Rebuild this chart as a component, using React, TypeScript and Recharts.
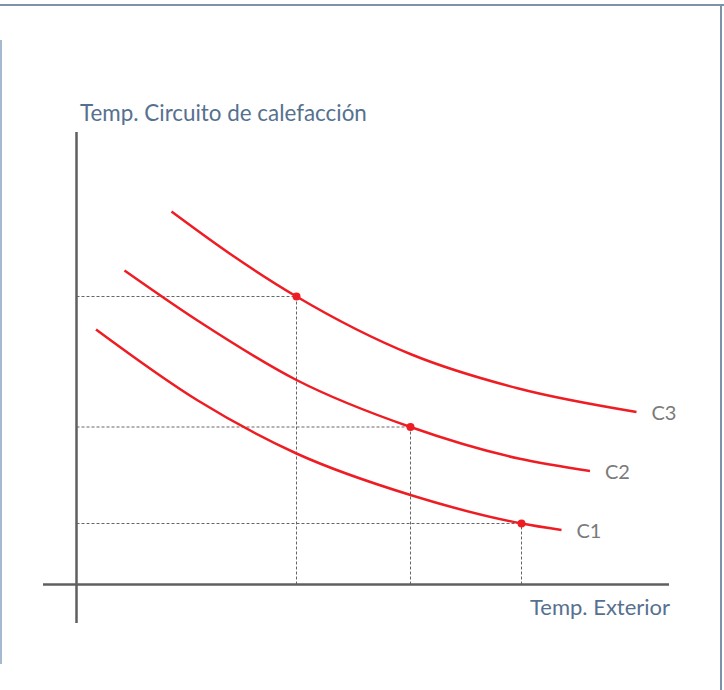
import React from 'react'
import {
  ComposedChart, Line, XAxis, YAxis, ReferenceLine, ReferenceDot,
} from 'recharts'

// unidades arbitrarias (sin escala en el original): x = temp. exterior, y = temp. impulsión
const c1 = [
  { x: 1.95, y: 25.5 },
  { x: 12.05, y: 18.45 },
  { x: 22.0, y: 13.1 },
  { x: 33.4, y: 8.95 },
  { x: 44.5, y: 6.1 },
  { x: 48.5, y: 5.45 },
]
const c2 = [
  { x: 4.8, y: 31.4 },
  { x: 12.1, y: 26.4 },
  { x: 22.0, y: 20.45 },
  { x: 33.4, y: 15.75 },
  { x: 44.2, y: 12.6 },
  { x: 51.35, y: 11.35 },
]
const c3 = [
  { x: 9.5, y: 37.3 },
  { x: 15.6, y: 32.9 },
  { x: 22.0, y: 28.8 },
  { x: 33.5, y: 23.0 },
  { x: 44.2, y: 19.6 },
  { x: 56.0, y: 17.25 },
]
const curveNames = ['C1', 'C2', 'C3']

// puntos de trabajo marcados en cada curva
const workPoints = [
  { x: 22.0, y: 28.8 },
  { x: 33.4, y: 15.75 },
  { x: 44.5, y: 6.1 },
]

const xDomain: [number, number] = [-7.65, 64.75]
const yDomain: [number, number] = [-10.55, 58.45]
const xAxisRange = [-3.35, 59.25]
const yAxisRange = [-3.85, 45.25]

const RED = '#ee1d23'
const AXIS = '#5f5f5f'
const TITLE = '#56718f'

function endLabel(name: string, count: number) {
  return (props: any) => {
    if (props.index !== count - 1) return <g />
    return (
      <text
        x={props.x + 15}
        y={props.y}
        dy={8}
        fill="#7a7a7a"
        fontSize={20}
        fontFamily="Lato, sans-serif"
      >
        {name}
      </text>
    )
  }
}

export default function App() {
  const curves = [c1, c2, c3]
  return (
    <div style={{ position: 'absolute', left: 0, top: 0, width: 724, height: 690, background: '#fff' }}>
      {/* marco */}
      <div style={{ position: 'absolute', left: 0, top: 4, width: 724, height: 2, background: '#7f93a8' }} />
      <div style={{ position: 'absolute', left: 720, top: 5, width: 2, height: 685, background: '#7f93a8' }} />
      <div style={{ position: 'absolute', left: 0, top: 40, width: 2, height: 624, background: '#a5bace' }} />

      <div
        style={{
          position: 'absolute', left: 80, top: 99, color: TITLE,
          fontFamily: 'Lato, sans-serif', fontSize: 22.4, whiteSpace: 'nowrap',
        }}
      >
        Temp. Circuito de calefacción
      </div>
      <div
        style={{
          position: 'absolute', left: 530, top: 593, color: TITLE,
          fontFamily: 'Lato, sans-serif', fontSize: 22, whiteSpace: 'nowrap',
        }}
      >
        Temp. Exterior
      </div>

      <div style={{ position: 'absolute', left: 0, top: 0 }}>
        <ComposedChart width={724} height={690} margin={{ top: 0, right: 0, bottom: 0, left: 0 }}>
          <XAxis type="number" dataKey="x" domain={xDomain} allowDataOverflow hide />
          <YAxis type="number" dataKey="y" domain={yDomain} allowDataOverflow hide />

          {/* líneas de lectura */}
          {workPoints.map((p, i) => (
            <ReferenceLine
              key={`h${i}`}
              segment={[{ x: 0, y: p.y }, { x: p.x, y: p.y }]}
              stroke="#666"
              strokeWidth={1}
              strokeDasharray="3 2"
              ifOverflow="visible"
            />
          ))}
          {workPoints.map((p, i) => (
            <ReferenceLine
              key={`v${i}`}
              segment={[{ x: p.x, y: 0 }, { x: p.x, y: p.y }]}
              stroke="#666"
              strokeWidth={1}
              strokeDasharray="3 2"
              ifOverflow="visible"
            />
          ))}

          {/* ejes */}
          <ReferenceLine
            segment={[{ x: xAxisRange[0], y: 0 }, { x: xAxisRange[1], y: 0 }]}
            stroke={AXIS}
            strokeWidth={2.5}
            ifOverflow="visible"
          />
          <ReferenceLine
            segment={[{ x: 0, y: yAxisRange[0] }, { x: 0, y: yAxisRange[1] }]}
            stroke={AXIS}
            strokeWidth={2.5}
            ifOverflow="visible"
          />

          {curves.map((data, i) => (
            <Line
              key={curveNames[i]}
              data={data}
              dataKey="y"
              type="monotone"
              stroke={RED}
              strokeWidth={2.5}
              dot={false}
              activeDot={false}
              isAnimationActive={false}
              label={endLabel(curveNames[i], data.length)}
            />
          ))}

          {workPoints.map((p, i) => (
            <ReferenceDot key={`d${i}`} x={p.x} y={p.y} r={4} fill={RED} stroke="none" ifOverflow="visible" />
          ))}
        </ComposedChart>
      </div>
    </div>
  )
}
